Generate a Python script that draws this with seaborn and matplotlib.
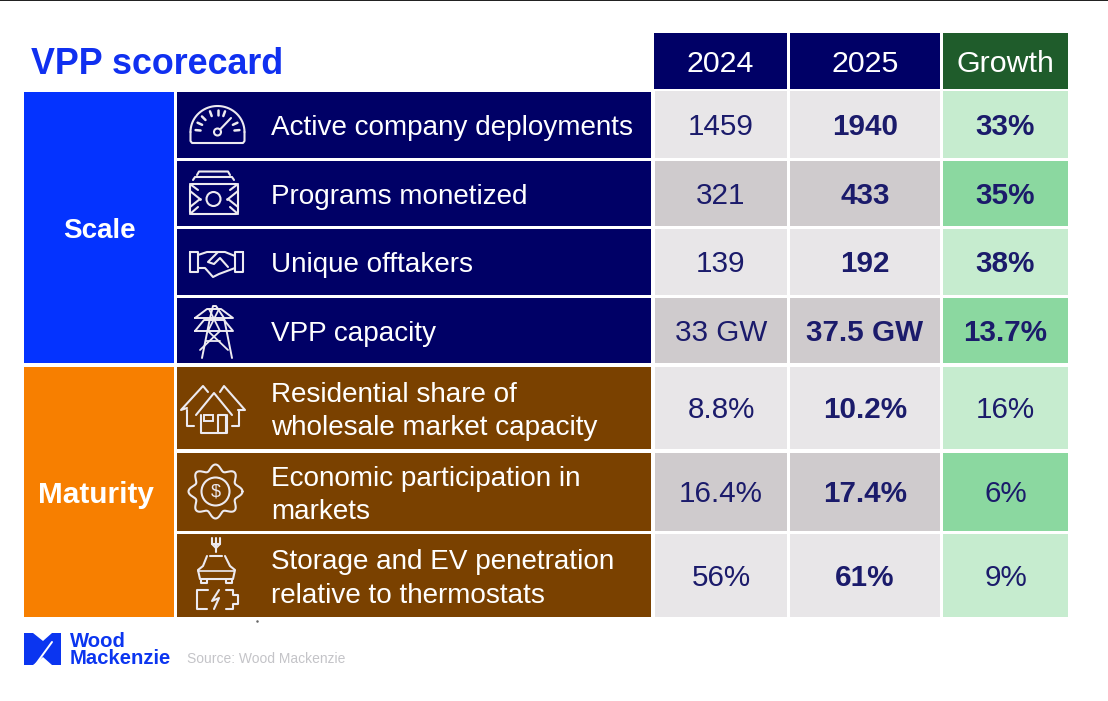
import numpy as np
import matplotlib
matplotlib.use("Agg")
import matplotlib.pyplot as plt
from matplotlib.colors import ListedColormap
from matplotlib.patches import Circle, Polygon, Rectangle, FancyBboxPatch
import seaborn as sns

sns.set_theme(style="white")
plt.rcParams['font.family'] = ['Liberation Sans', 'DejaVu Sans']

# ---------- data ----------
title = "VPP scorecard"
headers = ["2024", "2025", "Growth"]
groups = ["Scale", "Maturity"]
metrics = ["Active company deployments", "Programs monetized", "Unique offtakers", "VPP capacity",
           "Residential share of\nwholesale market capacity", "Economic participation in\nmarkets",
           "Storage and EV penetration\nrelative to thermostats"]
values_2024 = ["1459", "321", "139", "33 GW", "8.8%", "16.4%", "56%"]
values_2025 = ["1940", "433", "192", "37.5 GW", "10.2%", "17.4%", "61%"]
values_growth = ["33%", "35%", "38%", "13.7%", "16%", "6%", "9%"]
growth_bold = [True, True, True, True, False, False, False]

# ---------- layout (pixels) ----------
W, H = 1108, 701
NAVY, BLUE, ORANGE, BROWN = "#000066", "#0433FF", "#F77F00", "#7A4100"
GREY = ["#E8E6E8", "#CFCBCD"]
GREEN = ["#C6ECCF", "#8BD8A0"]
HGREEN = "#1F5C2B"
INK = "#1B1B6B"
rows = [(91, 158), (161, 226), (229, 295), (298, 363), (367, 449), (453, 531), (534, 617)]
cols = [(655, 787), (790, 940), (943, 1068)]
FS = 21.3

fig = plt.figure(figsize=(W / 100, H / 100), dpi=100, facecolor="white")


def cell(x0, x1, y0, y1, bg, text="", dx=0, dy=0, **kw):
    ax = fig.add_axes([x0 / W, 1 - y1 / H, (x1 - x0) / W, (y1 - y0) / H])
    sns.heatmap(np.array([[0.0]]), cmap=ListedColormap([bg]), cbar=False,
                annot=np.array([[text]]), fmt="", annot_kws=kw,
                xticklabels=False, yticklabels=False, ax=ax)
    ax.set_xlabel("")
    ax.set_ylabel("")
    for tx in ax.texts:
        tx.set_position((0.5 + dx / (x1 - x0), 0.5 + dy / (y1 - y0)))


# headers
for (x0, x1), h, c in zip([(654, 787), (790, 940), (943, 1068)], headers, [NAVY, NAVY, HGREEN]):
    cell(x0, x1, 33, 89, c, h, dy=2.5, color="white", fontsize=21.9)

# group blocks
cell(24, 174, 92, 363, BLUE, groups[0], dy=3, color="white", fontsize=20, fontweight="bold")
cell(24, 174, 367, 617, ORANGE, groups[1], dx=-3, dy=3, color="white", fontsize=21.4, fontweight="bold")

# table rows
for i, (y0, y1) in enumerate(rows):
    cell(177, 651, y0 + (1 if i == 0 else 0), y1, NAVY if i < 4 else BROWN)
    band = i % 2 if i < 4 else (i - 4) % 2
    cell(*cols[0], y0, y1, GREY[band], values_2024[i], dy=2.5, color=INK, fontsize=FS)
    cell(*cols[1], y0, y1, GREY[band], values_2025[i], dy=2.5, color=INK, fontsize=FS, fontweight="bold")
    cell(*cols[2], y0, y1, GREEN[band], values_growth[i], dy=2.5, color=INK, fontsize=FS,
         fontweight="bold" if growth_bold[i] else "normal")

# overlay in pixel coordinates
ov = fig.add_axes([0, 0, 1, 1], zorder=10)
ov.set_xlim(0, W)
ov.set_ylim(H, 0)
ov.axis("off")
ov.patch.set_alpha(0)

ov.add_patch(Rectangle((0, 0), W, 1.2, color="#222222", lw=0))
ov.text(31, 64, title, color="#1030F0", fontsize=25.8, fontweight="bold", va="center", ha="left")

for (y0, y1), m in zip(rows, metrics):
    ov.text(271, (y0 + y1) / 2 + 3.5, m, color="white", fontsize=20.1, va="center", ha="left", linespacing=1.39)

# ---------- icons ----------
IC = dict(color="#EDEAF0", lw=1.5, solid_capstyle="round", solid_joinstyle="round")


def pl(xs, ys, **kw):
    d = dict(IC)
    d.update(kw)
    ov.plot(xs, ys, **d)


def circ(x, y, r):
    ov.add_patch(Circle((x, y), r, fill=False, ec=IC["color"], lw=IC["lw"]))


# gauge
cx, cy = 217.5, 132
t = np.radians(np.linspace(180, 360, 40))
pl(cx + 27 * np.cos(t), cy + 26 * np.sin(t))
pl([190.5, 190.5, 192, 243, 244.5, 244.5], [132, 141, 143, 143, 141, 132])
for a in [185, 205, 225, 250, 270, 290, 335, 355]:
    r = np.radians(a)
    pl([cx + 17 * np.cos(r), cx + 22 * np.cos(r)], [cy + 17 * np.sin(r), cy + 22 * np.sin(r)], lw=1.8)
circ(cx, cy, 3.5)
pl([cx + 3, 231], [cy - 3, 118])

# money stack
pl([197, 199, 228, 230], [175, 171.5, 171.5, 175])
pl([193, 195, 232, 234], [180, 177, 177, 180])
ov.add_patch(FancyBboxPatch((190, 184), 48, 30, boxstyle="round,pad=0,rounding_size=2", fill=False, ec=IC["color"], lw=1.5))
circ(213.5, 199, 7)
pl([190, 200, 190], [191, 199, 207])
pl([238, 228, 238], [191, 199, 207])
pl([190, 198], [214, 207]); pl([238, 230], [214, 207])
pl([190, 198], [184, 190]); pl([238, 230], [184, 190])
ov.plot([200, 227], [199, 199], ls="", marker=".", ms=2, color=IC["color"])

# handshake
pl([190, 198, 198, 190, 190], [252, 252, 272, 272, 252])
pl([243, 235, 235, 243, 243], [252, 252, 272, 272, 252])
pl([198, 207, 225, 235], [255, 252, 252, 256])
pl([199, 205, 213, 219, 235], [268, 268, 277, 274, 268])
pl([218, 208, 214, 220, 228], [252, 262, 264, 258, 267])

# pylon
pl([202, 210, 213, 216, 224, 232], [358, 318, 306, 306, 318, 358], lw=1.4)
pl([195, 233, 221, 207, 195], [318, 318, 309, 309, 318], lw=1.4)
pl([195, 233, 224, 204, 195], [331, 331, 320, 320, 331], lw=1.4)
pl([208, 228], [331, 350], lw=1.3)
pl([220, 200], [331, 350], lw=1.3)
pl([206, 220], [341, 341], lw=1.3)
pl([209, 220], [309, 331], lw=1.3)
pl([219, 208], [309, 331], lw=1.3)

# houses
pl([196, 214, 232], [415, 393, 415])
pl([201, 201, 227, 227], [415, 433, 433, 415])
pl([187, 181, 203, 208], [408, 410, 386, 392])
pl([220, 224, 245, 238], [392, 386, 410, 410])
pl([187, 187, 194], [410, 426, 426]); pl([239, 239, 232], [410, 426, 426])
ov.add_patch(Rectangle((204, 415), 9, 6, fill=False, ec=IC["color"], lw=1.4))
pl([218, 218, 226, 226], [433, 415, 415, 433])

# gear with dollar
t = np.linspace(0, 2 * np.pi, 161)
pl(215.5 + (24 + 3 * np.cos(8 * t)) * np.cos(t), 491.5 + (24 + 3 * np.cos(8 * t)) * np.sin(t))
circ(215.5, 491.5, 14)
ov.text(215.5, 492, "$", color=IC["color"], fontsize=13, ha="center", va="center")

# car + plug + battery
pl([216, 216], [538, 552]); pl([212, 212, 220, 220], [538, 544, 544, 538]); pl([212, 216, 220], [544, 548, 544])
pl([210, 222], [556, 556])
pl([207, 203, 198, 200, 233, 235, 230, 225], [556, 566, 570, 579, 579, 570, 566, 556])
pl([198, 234], [571, 571], lw=1.2)
pl([201, 201, 207, 207], [579, 583, 583, 579]); pl([226, 226, 232, 232], [579, 583, 583, 579])
pl([208, 197, 197, 207], [590, 590, 609, 609])
pl([226, 233, 233, 238, 238, 233, 233, 226], [590, 590, 595, 595, 604, 604, 609, 609])
pl([219, 212, 219, 214], [590, 601, 598, 609])

# small speck, logo and source
ov.plot([257], [621], ls="", marker=".", ms=1.6, color="#666666")
LOGO = "#0B35F0"
ov.add_patch(Polygon([(24, 633), (33, 633), (43, 641), (52, 633), (61, 633), (61, 665), (52, 665),
                      (43, 657), (33, 665), (24, 665)], closed=True, color=LOGO, lw=0))
pl([36, 52], [664, 642], color="white", lw=1.4)
ov.text(70, 650, "Wood\nMackenzie", color=LOGO, fontsize=14.6, fontweight="bold", va="center", ha="left", linespacing=0.85)
ov.text(187, 659, "Source: Wood Mackenzie", color="#C4C4C8", fontsize=10, va="center", ha="left")

fig.savefig("out.png", dpi=100, facecolor="white")
